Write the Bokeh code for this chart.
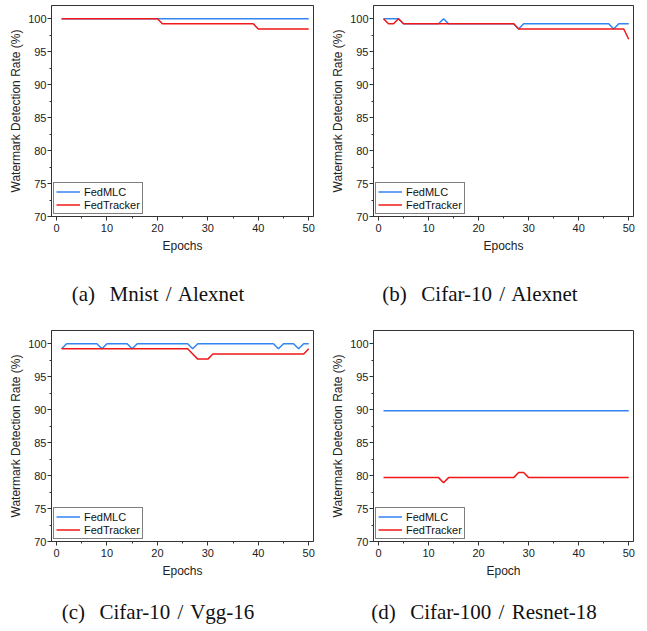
from bokeh.plotting import figure
from bokeh.models import Div, Range1d, SingleIntervalTicker, Legend, LegendItem
from bokeh.layouts import row, column
from bokeh.embed import file_html
from bokeh.resources import INLINE

# ---------------- data ----------------
epochs = list(range(1, 51))

# (a) Mnist / Alexnet
a_fedmlc = [100.0] * 50
a_fedtracker = [100.0] * 20 + [99.22] * 19 + [98.44] * 11

# (b) Cifar-10 / Alexnet
b_fedmlc = ([100.0] * 4 + [99.22] * 8 + [100.0] + [99.22] * 14 + [98.44]
            + [99.22] * 18 + [98.44] + [99.22] * 3)
b_fedtracker = ([100.0] + [99.22] * 2 + [100.0] + [99.22] * 23
                + [98.44] * 22 + [96.88])

# (c) Cifar-10 / Vgg-16
c_fedmlc = ([99.22] + [100.0] * 7 + [99.22] + [100.0] * 5 + [99.22]
            + [100.0] * 11 + [99.22] + [100.0] * 16 + [99.22]
            + [100.0] * 3 + [99.22] + [100.0] * 2)
c_fedtracker = [99.22] * 26 + [98.44] + [97.66] * 3 + [98.44] * 19 + [99.22]

# (d) Cifar-100 / Resnet-18
d_fedmlc = [89.84] * 50
d_fedtracker = ([79.69] * 12 + [78.91] + [79.69] * 14 + [80.47] * 2
                + [79.69] * 21)

series_names = ["FedMLC", "FedTracker"]
x_labels = ["Epochs", "Epochs", "Epochs", "Epoch"]
y_label = "Watermark Detection Rate (%)"
captions = ["(a)&nbsp; Mnist / Alexnet", "(b)&nbsp; Cifar-10 / Alexnet",
            "(c)&nbsp; Cifar-10 / Vgg-16", "(d)&nbsp; Cifar-100 / Resnet-18"]

BLUE = "#3385f0"
RED = "#f01818"
AX = "#333333"
SANS = "Liberation Sans"
SERIF = "Liberation Serif"


def make_panel(fedmlc, fedtracker, xlabel, left_border, right_border, top_border):
    width = left_border + 262 + right_border
    p = figure(width=width, height=top_border + 211 + 50,
               x_range=Range1d(-1, 50.95), y_range=Range1d(70, 102),
               output_backend="svg", toolbar_location=None,
               min_border_left=left_border, min_border_right=right_border,
               min_border_top=top_border, min_border_bottom=50)
    p.xgrid.visible = False
    p.ygrid.visible = False
    p.outline_line_color = AX
    p.outline_line_width = 1
    p.outline_line_alpha = 1
    p.background_fill_color = "white"
    p.border_fill_color = "white"

    p.xaxis.ticker = SingleIntervalTicker(interval=10, num_minor_ticks=2)
    p.yaxis.ticker = SingleIntervalTicker(interval=5, num_minor_ticks=2)
    for ax in (p.xaxis[0], p.yaxis[0]):
        ax.axis_line_color = AX
        ax.major_tick_line_color = AX
        ax.minor_tick_line_color = AX
        ax.major_tick_out = 4
        ax.major_tick_in = 0
        ax.minor_tick_out = 2
        ax.minor_tick_in = 0
        ax.major_label_text_font = SANS
        ax.major_label_text_font_size = "11px"
        ax.major_label_text_color = "#222222"
        ax.axis_label_text_font = SANS
        ax.axis_label_text_font_size = "12px"
        ax.axis_label_text_font_style = "normal"
        ax.axis_label_text_color = "#222222"
    p.xaxis.axis_label = xlabel
    p.yaxis.axis_label = y_label
    p.xaxis.major_label_standoff = 3
    p.xaxis.axis_label_standoff = 4
    p.yaxis.major_label_standoff = 1
    p.yaxis.axis_label_standoff = 2

    r1 = p.line(epochs, fedmlc, line_color=BLUE, line_width=1.5)
    r2 = p.line(epochs, fedtracker, line_color=RED, line_width=1.5)

    legend = Legend(items=[LegendItem(label=series_names[0], renderers=[r1]),
                           LegendItem(label=series_names[1], renderers=[r2])],
                    location="bottom_left")
    legend.margin = 2
    legend.padding = 2
    legend.spacing = 0
    legend.glyph_width = 24
    legend.glyph_height = 13
    legend.label_height = 13
    legend.label_standoff = 4
    legend.label_text_font = SANS
    legend.label_text_font_size = "11px"
    legend.label_text_color = "#111111"
    legend.border_line_color = "black"
    legend.border_line_width = 1
    legend.background_fill_color = "white"
    legend.background_fill_alpha = 1
    p.add_layout(legend)
    return p


def caption(text, width, height, pad_top, margin_left):
    html = ('<div style="width:%dpx;padding-top:%dpx;line-height:20px;'
            'font-family:\'%s\';font-size:21px;color:#111;text-align:center;'
            'white-space:nowrap;word-spacing:2px">%s</div>'
            % (width, pad_top, SERIF, text))
    return Div(text=html, width=width, height=height,
               margin=(0, 0, 0, margin_left))


pa = make_panel(a_fedmlc, a_fedtracker, x_labels[0], 51, 15, 5)
pb = make_panel(b_fedmlc, b_fedtracker, x_labels[1], 43, 5, 5)
pc = make_panel(c_fedmlc, c_fedtracker, x_labels[2], 51, 15, 10)
pd = make_panel(d_fedmlc, d_fedtracker, x_labels[3], 43, 5, 10)

cap_row1 = row(caption(captions[0], 316, 54, 18, 0),
               caption(captions[1], 300, 54, 18, 14), margin=(0, 0, 0, 0))
cap_row2 = row(caption(captions[2], 316, 40, 11, 0),
               caption(captions[3], 300, 40, 11, 18), margin=(0, 0, 0, 0))

layout = column(row(pa, pb, margin=(0, 0, 0, 0)),
                cap_row1,
                row(pc, pd, margin=(0, 0, 0, 0)),
                cap_row2,
                margin=(0, 0, 0, 0))

open("out.html", "w").write(file_html(layout, INLINE))
